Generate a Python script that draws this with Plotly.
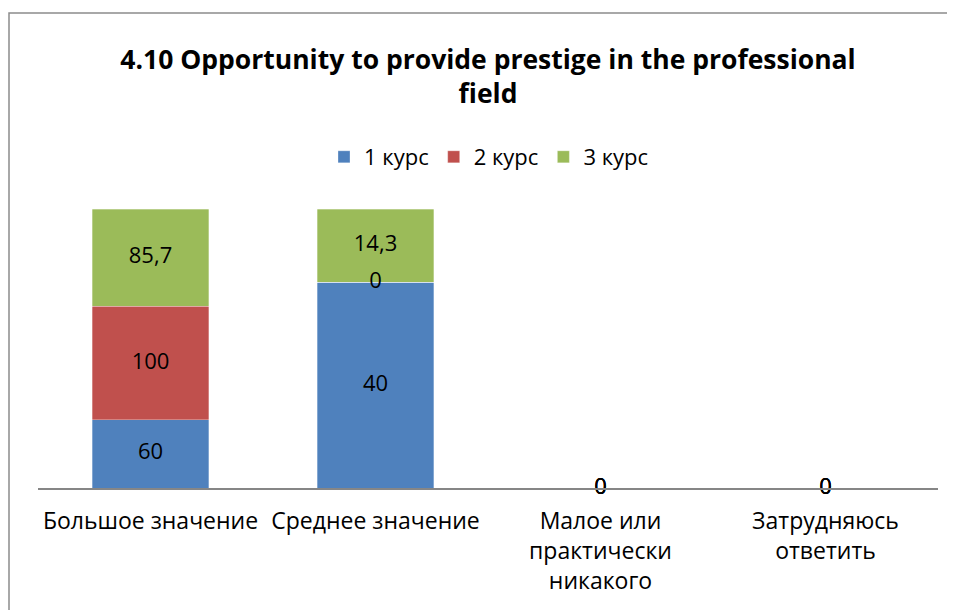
import plotly.graph_objects as go

categories = ["Большое значение", "Среднее значение", "Малое или<br>практически<br>никакого", "Затрудняюсь<br>ответить"]
series_names = ["1 курс", "2 курс", "3 курс"]
values_1 = [60, 40, 0, 0]
values_2 = [100, 0, 0, 0]
values_3 = [85.7, 14.3, 0, 0]
colors = ["#4F81BD", "#C0504D", "#9BBB59"]

all_values = [values_1, values_2, values_3]
FONT = "Open Sans"

fig = go.Figure()
for name, vals, col in zip(series_names, all_values, colors):
    fig.add_trace(go.Bar(
        x=categories, y=vals, name=name,
        marker=dict(color=col, line=dict(color="rgba(255,255,255,0.6)", width=0.5)),
        hoverinfo="skip",
    ))

# data labels positioned at the middle of each (normalized) segment
totals = [sum(v[j] for v in all_values) for j in range(len(categories))]
cum = [0.0] * len(categories)
lab_x, lab_y, lab_t = [], [], []
for vals in all_values:
    for j, v in enumerate(vals):
        pct = v / totals[j] * 100 if totals[j] else 0
        lab_x.append(categories[j])
        lab_y.append(cum[j] + pct / 2)
        lab_t.append(("%g" % v).replace(".", ","))
        cum[j] += pct

fig.add_trace(go.Scatter(
    x=lab_x, y=lab_y, text=lab_t, mode="text",
    textfont=dict(family=FONT, size=22, color="black"),
    showlegend=False, hoverinfo="skip", cliponaxis=False,
))

# page has an ~8px body margin; figure coordinates are page coords minus 8
W, H = 947, 602
L, R, T, B = 30, 17, 201, 122
pw, ph = W - L - R, H - T - B

fig.update_layout(
    width=W, height=H,
    barmode="stack", barnorm="percent", bargap=0.484,
    margin=dict(l=L, r=R, t=T, b=B, autoexpand=False),
    paper_bgcolor="white", plot_bgcolor="white",
    font=dict(family=FONT, size=22, color="black"),
    title=dict(
        text="<b>4.10 Opportunity to provide prestige in the professional<br>field</b>",
        font=dict(family=FONT, size=26.5, color="black"),
        x=480 / W, xanchor="center", xref="container",
        y=1 - 61 / H, yanchor="middle", yref="container",
    ),
    legend=dict(
        orientation="h", x=(481 - L) / pw, xanchor="center",
        y=(H - B - 149) / ph, yanchor="middle",
        font=dict(family=FONT, size=22), traceorder="normal",
    ),
    xaxis=dict(
        showline=True, linecolor="#868686", linewidth=1.5,
        ticks="", showgrid=False, ticklabelstandoff=12,
        tickfont=dict(family=FONT, size=23),
    ),
    yaxis=dict(visible=False, range=[0, 100]),
    shapes=[dict(
        type="rect", xref="paper", yref="paper",
        x0=(1 - L) / pw, x1=(W + 20 - L) / pw,
        y0=(H - B - (H + 20)) / ph, y1=(H - B - 5) / ph,
        line=dict(color="#8C8C8C", width=1.5), fillcolor="rgba(0,0,0,0)",
        layer="below",
    )],
)

fig.write_html("out.html")
